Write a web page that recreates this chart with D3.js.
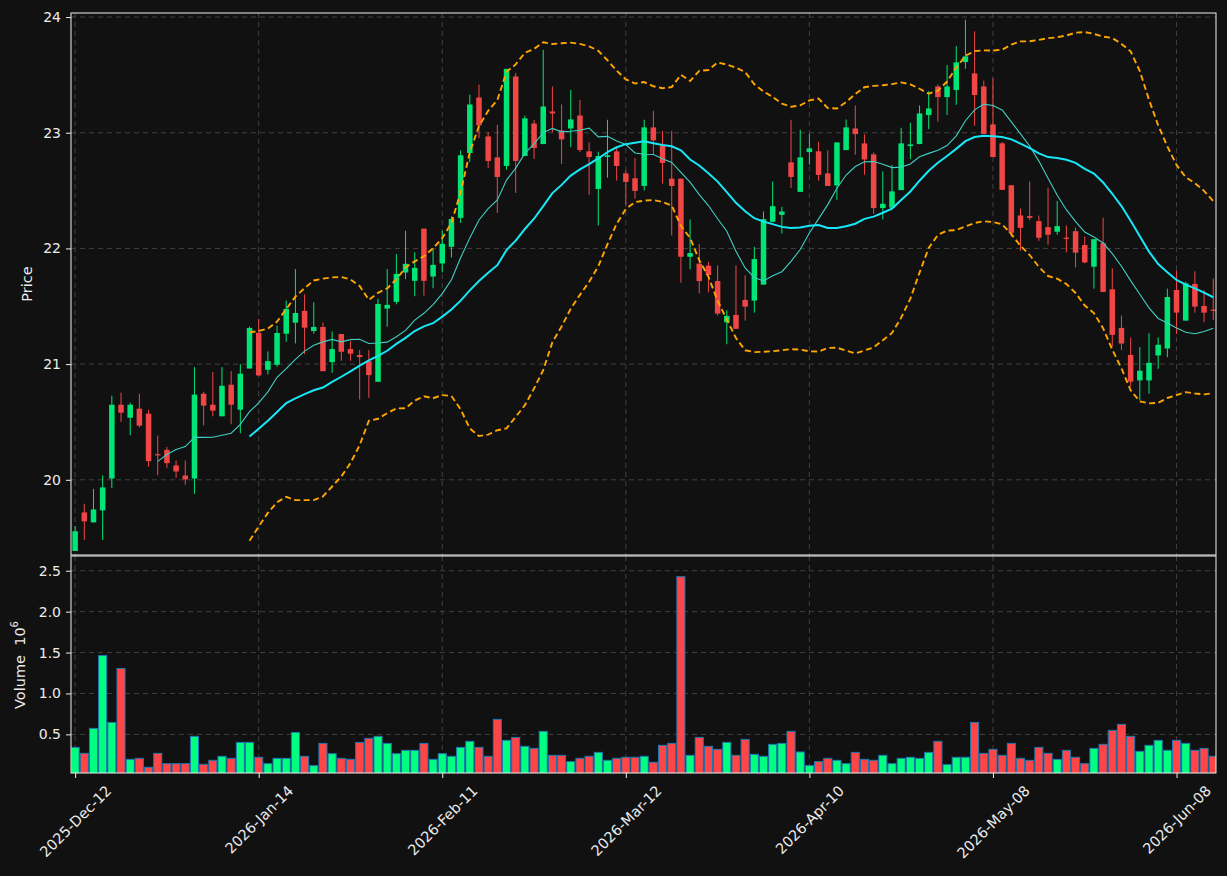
<!DOCTYPE html>
<html><head><meta charset="utf-8">
<script src="https://cdn.jsdelivr.net/npm/d3@7"></script>
<style>
html,body{margin:0;padding:0;background:#111111;}
svg{display:block;}
text{font-family:"DejaVu Sans",sans-serif;}
</style>
</head><body>
<svg id="chart" width="1227" height="876"></svg>
<script>
const opens = [19.385,19.718,19.632,19.736,20.011,20.649,20.537,20.615,20.572,20.22,
20.259,20.124,20.037,20.011,20.744,20.649,20.549,20.822,20.606,20.962,
21.27,20.951,20.994,21.263,21.358,21.46,21.286,21.321,21.017,21.26,
21.13,21.078,21.026,20.847,21.48,21.538,21.792,21.72,22.171,21.757,
21.87,22.014,22.264,22.825,23.305,22.968,22.787,22.713,23.486,22.799,
23.08,22.902,23.184,23.02,23.037,23.149,22.839,22.514,22.79,22.839,
22.649,22.606,22.54,23.046,22.888,22.603,22.603,21.928,21.868,21.851,
21.718,21.362,21.425,21.555,21.549,21.687,22.23,22.29,22.744,22.489,
22.833,22.839,22.649,22.545,22.85,23.037,22.908,22.813,22.349,22.352,
22.504,22.885,22.902,23.153,23.40,23.308,23.369,23.611,23.513,23.40,
23.072,22.908,22.546,22.285,22.279,22.236,22.184,22.144,22.092,22.149,
22.029,21.842,22.046,21.647,21.313,21.08,20.859,20.859,21.075,21.135,
21.641,21.376,21.693,21.503,21.468];
const highs = [19.60,19.793,19.922,20.037,20.727,20.753,20.667,20.744,20.606,20.382,
20.284,20.167,20.167,20.974,20.761,20.931,20.974,20.94,21.0,21.324,
21.388,21.11,21.332,21.549,21.821,21.604,21.535,21.361,21.283,21.26,
21.197,21.121,21.121,21.566,21.821,21.951,22.153,21.968,22.171,22.0,
22.153,22.277,22.848,23.33,23.417,23.003,23.069,23.552,23.517,23.147,
23.112,23.716,23.40,23.244,23.37,23.284,22.917,22.836,23.112,22.876,
22.675,22.782,23.112,23.19,23.017,23.017,22.603,22.25,22.037,21.885,
21.853,21.466,21.853,21.767,22.014,22.319,22.578,22.359,23.112,23.026,
22.991,22.922,22.848,22.916,23.115,23.236,22.986,22.83,22.666,22.723,
23.043,23.086,23.236,23.36,23.418,23.585,23.749,23.977,23.876,23.45,
23.47,22.92,22.546,22.345,22.578,22.284,22.526,22.411,22.198,22.181,
22.103,22.08,22.267,21.828,21.42,21.23,21.147,21.267,21.23,21.652,
21.81,21.713,21.802,21.638,21.741];
const lows = [19.385,19.48,19.632,19.48,19.928,20.50,20.385,20.454,20.112,20.04,
20.103,20.017,19.957,19.879,20.471,20.549,20.549,20.48,20.402,20.962,
20.90,20.91,20.977,21.194,21.179,21.087,21.263,20.939,20.925,21.029,
21.029,20.694,20.708,20.847,21.324,21.517,21.734,21.587,21.592,21.656,
21.792,21.922,22.22,22.747,22.954,22.695,22.307,22.681,22.48,22.799,
22.773,22.902,23.003,22.73,22.876,22.833,22.463,22.198,22.612,22.586,
22.376,22.431,22.5,22.81,22.56,22.112,21.704,21.819,21.612,21.621,
21.42,21.172,21.305,21.376,21.445,21.687,22.23,22.129,22.523,22.489,
22.724,22.586,22.54,22.42,22.85,22.81,22.637,22.30,22.25,22.352,
22.504,22.772,22.902,23.032,23.095,23.153,23.242,23.553,23.06,22.99,
22.79,22.506,22.10,21.98,22.244,22.066,22.032,22.118,21.966,21.836,
21.871,21.652,21.624,21.152,21.121,20.807,20.687,20.744,20.96,21.06,
21.261,21.376,21.445,21.362,21.382];
const closes = [19.555,19.641,19.744,19.934,20.649,20.58,20.649,20.468,20.161,20.212,
20.144,20.072,20.003,20.736,20.641,20.598,20.813,20.649,20.917,21.313,
20.902,21.026,21.269,21.477,21.442,21.315,21.321,20.939,21.13,21.107,
21.09,21.061,20.905,21.52,21.512,21.78,21.867,21.832,21.72,21.858,
22.04,22.254,22.805,23.244,23.063,22.756,22.618,23.552,22.756,23.124,
22.868,23.227,23.167,22.943,23.115,22.851,22.79,22.799,22.805,22.713,
22.575,22.497,23.046,22.934,22.739,22.54,21.928,21.96,21.718,21.77,
21.437,21.417,21.305,21.497,21.908,22.253,22.365,22.319,22.618,22.787,
22.865,22.635,22.54,22.916,23.046,22.988,22.769,22.349,22.386,22.493,
22.908,22.899,23.167,23.21,23.308,23.40,23.608,23.66,23.326,22.99,
22.79,22.506,22.135,22.178,22.264,22.092,22.118,22.193,22.083,21.963,
21.879,22.08,21.624,21.253,21.178,20.848,20.943,21.011,21.167,21.58,
21.445,21.698,21.497,21.445,21.463];
// volume in millions
const volumes = [0.341,0.268,0.573,1.463,0.646,1.305,0.195,0.207,0.098,0.268,
0.142,0.142,0.142,0.476,0.134,0.183,0.232,0.207,0.402,0.402,
0.22,0.142,0.207,0.207,0.524,0.232,0.118,0.39,0.264,0.207,
0.195,0.402,0.451,0.476,0.39,0.264,0.305,0.305,0.39,0.195,
0.264,0.232,0.341,0.415,0.341,0.232,0.683,0.427,0.463,0.354,
0.329,0.537,0.244,0.244,0.167,0.207,0.232,0.28,0.183,0.207,
0.22,0.22,0.232,0.159,0.366,0.39,2.427,0.244,0.463,0.354,
0.317,0.402,0.244,0.439,0.256,0.232,0.378,0.39,0.537,0.285,
0.118,0.167,0.207,0.183,0.142,0.28,0.195,0.183,0.244,0.142,
0.207,0.22,0.207,0.28,0.415,0.13,0.22,0.22,0.646,0.268,
0.317,0.244,0.39,0.207,0.183,0.341,0.268,0.195,0.305,0.22,
0.142,0.329,0.378,0.549,0.622,0.476,0.293,0.366,0.427,0.305,
0.427,0.39,0.305,0.329,0.232];
const tickIndex = [0,20,40,60,80,100,120];
const tickLabels = ["2025-Dec-12","2026-Jan-14","2026-Feb-11","2026-Mar-12","2026-Apr-10","2026-May-08","2026-Jun-08"];
const priceTicks = [20,21,22,23,24];
const volumeTicks = [0.5,1.0,1.5,2.0,2.5];

const L=71,R=1216,PT=13,PB=555,VT=556,VB=773;
const n = closes.length;
const svg = d3.select("#chart");
svg.append("rect").attr("width",1227).attr("height",876).attr("fill","#111111");

const x = d3.scaleLinear().domain([-0.45, n-0.7]).range([L,R]);
const yP = d3.scaleLinear().domain([19.35, 24.035]).range([PB,PT]);
const yV = d3.scaleLinear().domain([0.028, 2.68]).range([VB,VT]);
const step = x(1)-x(0);

const UP="#00e676", DN="#f04646", VUP="#00ff80", VDN="#ff4545";

const defs = svg.append("defs");
defs.append("clipPath").attr("id","cp").append("rect").attr("x",L).attr("y",PT).attr("width",R-L).attr("height",PB-PT);
defs.append("clipPath").attr("id","cv").append("rect").attr("x",L).attr("y",VT).attr("width",R-L).attr("height",VB-VT);

const gridColor="#404040", dash="5,4";
const gP = svg.append("g");
const gV = svg.append("g");
tickIndex.forEach(i=>{
  gP.append("line").attr("x1",x(i)).attr("x2",x(i)).attr("y1",PT).attr("y2",PB).attr("stroke",gridColor).attr("stroke-dasharray",dash);
  gV.append("line").attr("x1",x(i)).attr("x2",x(i)).attr("y1",VT).attr("y2",VB).attr("stroke",gridColor).attr("stroke-dasharray",dash);
});
priceTicks.forEach(t=>gP.append("line").attr("x1",L).attr("x2",R).attr("y1",yP(t)).attr("y2",yP(t)).attr("stroke",gridColor).attr("stroke-dasharray",dash));
volumeTicks.forEach(t=>gV.append("line").attr("x1",L).attr("x2",R).attr("y1",yV(t)).attr("y2",yV(t)).attr("stroke",gridColor).attr("stroke-dasharray",dash));

// candles
const idx = d3.range(n);
const cg = svg.append("g").attr("clip-path","url(#cp)");
const bw = step*0.6;
idx.forEach(i=>{
  const up = closes[i] >= opens[i];
  const col = up?UP:DN;
  cg.append("line").attr("x1",x(i)).attr("x2",x(i)).attr("y1",yP(highs[i])).attr("y2",yP(lows[i])).attr("stroke",col).attr("stroke-width",1);
  const top = yP(Math.max(opens[i],closes[i])), bot = yP(Math.min(opens[i],closes[i]));
  const h = Math.max(bot-top, 1.2);
  cg.append("rect").attr("x",x(i)-bw/2).attr("y",top - (h>bot-top ? (h-(bot-top))/2 : 0)).attr("width",bw).attr("height",h).attr("fill",col);
});

// indicators
function rollMean(arr,w){return arr.map((v,i)=> i<w-1?null:d3.mean(arr.slice(i-w+1,i+1)));}
function rollStd(arr,w){return arr.map((v,i)=>{ if(i<w-1) return null; const s=arr.slice(i-w+1,i+1); const m=d3.mean(s); return Math.sqrt(d3.sum(s,d=>(d-m)*(d-m))/w);});}
const ma10 = rollMean(closes,10), ma20 = rollMean(closes,20), sd20 = rollStd(closes,20);
const bbU = ma20.map((m,i)=>m==null?null:m+2*sd20[i]);
const bbL = ma20.map((m,i)=>m==null?null:m-2*sd20[i]);
const line = d3.line().defined(d=>d[1]!=null).x(d=>x(d[0])).y(d=>yP(d[1]));
const lg = svg.append("g").attr("clip-path","url(#cp)");
lg.append("path").attr("d",line(idx.map(i=>[i,bbU[i]]))).attr("fill","none").attr("stroke","#ffa500").attr("stroke-width",1.9).attr("stroke-dasharray","6,3.5");
lg.append("path").attr("d",line(idx.map(i=>[i,bbL[i]]))).attr("fill","none").attr("stroke","#ffa500").attr("stroke-width",1.9).attr("stroke-dasharray","6,3.5");
lg.append("path").attr("d",line(idx.map(i=>[i,ma10[i]]))).attr("fill","none").attr("stroke","#40cfc4").attr("stroke-width",1.1);
lg.append("path").attr("d",line(idx.map(i=>[i,ma20[i]]))).attr("fill","none").attr("stroke","#16e8f8").attr("stroke-width",2);

// volume
const vg = svg.append("g").attr("clip-path","url(#cv)");
const vw = step*0.88;
idx.forEach(i=>{
  const up = closes[i] >= opens[i];
  vg.append("rect").attr("x",x(i)-vw/2).attr("y",yV(volumes[i])).attr("width",vw).attr("height",VB+2-yV(volumes[i]))
    .attr("fill",up?VUP:VDN).attr("stroke","#1f77b4").attr("stroke-width",1);
});

// spines
const sp="#f0f0f0";
svg.append("rect").attr("x",L).attr("y",PT).attr("width",R-L).attr("height",PB-PT).attr("fill","none").attr("stroke",sp).attr("stroke-width",1);
svg.append("rect").attr("x",L).attr("y",VT).attr("width",R-L).attr("height",VB-VT).attr("fill","none").attr("stroke",sp).attr("stroke-width",1);

// y axes
const txtCol="#ececec";
const ayP = d3.axisLeft(yP).tickValues(priceTicks).tickSize(5).tickPadding(5).tickFormat(d3.format("d"));
const gyP = svg.append("g").attr("transform",`translate(${L},0)`).call(ayP);
const ayV = d3.axisLeft(yV).tickValues(volumeTicks).tickSize(5).tickPadding(5).tickFormat(d3.format(".1f"));
const gyV = svg.append("g").attr("transform",`translate(${L},0)`).call(ayV);
[gyP,gyV].forEach(g=>{
  g.select(".domain").remove();
  g.selectAll(".tick line").attr("stroke",sp);
  g.selectAll(".tick text").attr("fill",txtCol).attr("font-size",14).attr("font-family","DejaVu Sans");
});

// x axis
const ax = d3.axisBottom(x).tickValues(tickIndex).tickSize(5).tickFormat((d,i)=>tickLabels[i]);
const gx = svg.append("g").attr("transform",`translate(0,${VB})`).call(ax);
gx.select(".domain").remove();
gx.selectAll(".tick line").attr("stroke",sp);
gx.selectAll(".tick text").attr("fill",txtCol).attr("font-size",14.5).attr("font-family","DejaVu Sans")
  .attr("text-anchor","middle").attr("dominant-baseline","central").attr("dy",null).attr("y",null)
  .each(function(){
    const w = this.getComputedTextLength(), h = 14.5;
    const bh = (w+h)*0.7071;
    d3.select(this).attr("transform",`translate(0,${10+bh/2}) rotate(-45)`);
  });

// labels
svg.append("text").attr("transform","translate(27,284) rotate(-90)").attr("text-anchor","middle").attr("dominant-baseline","central")
  .attr("fill",txtCol).attr("font-size",14.5).text("Price");
const vt = svg.append("text").attr("transform","translate(20,665) rotate(-90)").attr("text-anchor","middle").attr("dominant-baseline","central")
  .attr("fill",txtCol).attr("font-size",14.5);
vt.append("tspan").text("Volume\u00a0\u00a010");
vt.append("tspan").attr("font-size",10).attr("dy",-6).text("6");
</script>
</body></html>
